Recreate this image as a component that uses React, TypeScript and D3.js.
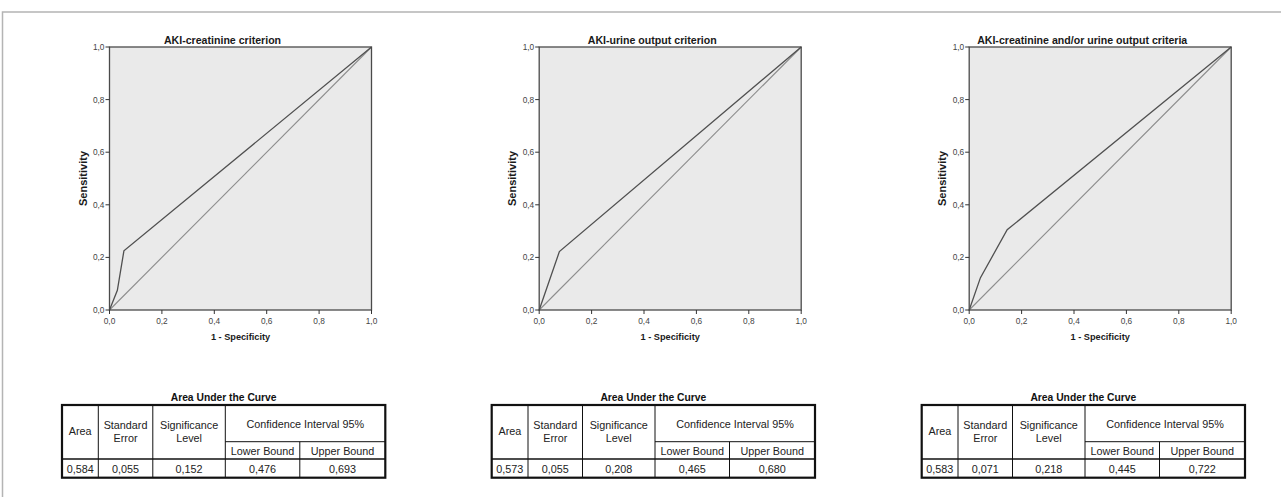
import React from 'react';
import * as d3 from 'd3';

const chartTitles = [
  'AKI-creatinine criterion',
  'AKI-urine output criterion',
  'AKI-creatinine and/or urine output criteria',
];
const rocCreatinine: [number, number][] = [[0, 0], [0.03, 0.075], [0.055, 0.225], [1, 1]];
const rocUrine: [number, number][] = [[0, 0], [0.077, 0.222], [1, 1]];
const rocCombined: [number, number][] = [[0, 0], [0.043, 0.123], [0.145, 0.305], [1, 1]];
const referenceLine: [number, number][] = [[0, 0], [1, 1]];
const tickValues = [0, 0.2, 0.4, 0.6, 0.8, 1];
const xAxisTitle = '1 - Specificity';
const yAxisTitle = 'Sensitivity';
const tableTitle = 'Area Under the Curve';
const aucArea = ['0,584', '0,573', '0,583'];
const aucStdError = ['0,055', '0,055', '0,071'];
const aucSignificance = ['0,152', '0,208', '0,218'];
const aucLowerBound = ['0,476', '0,465', '0,445'];
const aucUpperBound = ['0,693', '0,680', '0,722'];

const rocSeries = [rocCreatinine, rocUrine, rocCombined];

const W = 1281;
const H = 497;
const FONT = '"Liberation Sans", Arial, sans-serif';
const panelX = [62, 491.7, 921.7];
const plotOffset = 47.5;
const plotTop = 47;
const plotW = 262;
const plotH = 263;
const colW = [36.3, 54.5, 72.5, 74.5, 85.5];
const tableTop = 405;
const subRowY = 36.7;
const headBottom = 54;
const tableBottom = 72.7;

const fmt = (v: number) => d3.format('.1f')(v).replace('.', ',');

function Panel({ i }: { i: number }) {
  const px = panelX[i] + plotOffset;
  const x = d3.scaleLinear().domain([0, 1]).range([px, px + plotW]);
  const y = d3.scaleLinear().domain([0, 1]).range([plotTop + plotH, plotTop]);
  const line = d3
    .line<[number, number]>()
    .x((d) => x(d[0]))
    .y((d) => y(d[1]));
  const cx = px + plotW / 2;
  const cy = plotTop + plotH / 2;

  const tx = panelX[i];
  const colX: number[] = [tx];
  colW.forEach((w) => colX.push(colX[colX.length - 1] + w));
  const tRight = colX[colX.length - 1];
  const tW = tRight - tx;
  const mid = (a: number, b: number) => (a + b) / 2;
  const values = [aucArea[i], aucStdError[i], aucSignificance[i], aucLowerBound[i], aucUpperBound[i]];

  return (
    <g>
      <text x={cx - 18} y={44} textAnchor="middle" fontFamily={FONT} fontWeight="bold" fontSize={10.6} fill="#1a1a1a">
        {chartTitles[i]}
      </text>
      <rect x={px} y={plotTop} width={plotW} height={plotH} fill="#eaeaea" />
      <path d={line(referenceLine) || ''} fill="none" stroke="#8c8c8c" strokeWidth={1.1} />
      <path d={line(rocSeries[i]) || ''} fill="none" stroke="#505050" strokeWidth={1.3} />
      <rect x={px} y={plotTop} width={plotW} height={plotH} fill="none" stroke="#4a4a4a" strokeWidth={1.3} />
      {tickValues.map((t) => (
        <g key={'y' + t}>
          <line x1={px - 4} x2={px} y1={y(t)} y2={y(t)} stroke="#333" strokeWidth={1} />
          <text x={px - 5} y={y(t) + 3} textAnchor="end" fontFamily={FONT} fontSize={8.3} fill="#444">
            {fmt(t)}
          </text>
        </g>
      ))}
      {tickValues.map((t) => (
        <g key={'x' + t}>
          <line x1={x(t)} x2={x(t)} y1={plotTop + plotH} y2={plotTop + plotH + 4} stroke="#333" strokeWidth={1} />
          <text x={x(t)} y={plotTop + plotH + 13.5} textAnchor="middle" fontFamily={FONT} fontSize={8.3} fill="#444">
            {fmt(t)}
          </text>
        </g>
      ))}
      <text x={cx} y={339.5} textAnchor="middle" fontFamily={FONT} fontWeight="bold" fontSize={9.2} fill="#1a1a1a">
        {xAxisTitle}
      </text>
      <text
        transform={`translate(${px - 23},${cy}) rotate(-90)`}
        textAnchor="middle"
        fontFamily={FONT}
        fontWeight="bold"
        fontSize={11}
        fill="#1a1a1a"
      >
        {yAxisTitle}
      </text>

      {/* table */}
      <text x={tx + tW / 2} y={401} textAnchor="middle" fontFamily={FONT} fontWeight="bold" fontSize={10.3} fill="#111">
        {tableTitle}
      </text>
      <g fontFamily={FONT} fontSize={10.8} fill="#222" textAnchor="middle">
        <text x={mid(colX[0], colX[1])} y={tableTop + 30}>Area</text>
        <text x={mid(colX[1], colX[2])} y={tableTop + 24}>Standard</text>
        <text x={mid(colX[1], colX[2])} y={tableTop + 37}>Error</text>
        <text x={mid(colX[2], colX[3])} y={tableTop + 24}>Significance</text>
        <text x={mid(colX[2], colX[3])} y={tableTop + 37}>Level</text>
        <text x={mid(colX[3], colX[5])} y={tableTop + 22.5}>Confidence Interval 95%</text>
        <text x={mid(colX[3], colX[4])} y={tableTop + 49.5}>Lower Bound</text>
        <text x={mid(colX[4], colX[5])} y={tableTop + 49.5}>Upper Bound</text>
        {values.map((v, k) => (
          <text key={k} x={mid(colX[k], colX[k + 1])} y={tableTop + 67.5}>
            {v}
          </text>
        ))}
      </g>
      <g stroke="#111" fill="none">
        {[1, 2, 3].map((k) => (
          <line key={k} x1={colX[k]} x2={colX[k]} y1={tableTop} y2={tableTop + tableBottom} strokeWidth={1} />
        ))}
        <line x1={colX[4]} x2={colX[4]} y1={tableTop + subRowY} y2={tableTop + tableBottom} strokeWidth={1} />
        <line x1={colX[3]} x2={tRight} y1={tableTop + subRowY} y2={tableTop + subRowY} strokeWidth={1} />
        <line x1={tx} x2={tRight} y1={tableTop + headBottom} y2={tableTop + headBottom} strokeWidth={1.6} />
        <rect x={tx} y={tableTop} width={tW} height={tableBottom} strokeWidth={2.2} />
      </g>
    </g>
  );
}

export default function App() {
  return (
    <svg
      width={W}
      height={H}
      viewBox={`0 0 ${W} ${H}`}
      style={{ position: 'absolute', left: 0, top: 0, background: '#fff', display: 'block' }}
    >
      <rect x={0} y={0} width={W} height={H} fill="#fff" />
      <path d={`M2.5,${H} L2.5,12 L${W},12`} fill="none" stroke="#b4b4b4" strokeWidth={1.5} />
      {[0, 1, 2].map((i) => (
        <Panel key={i} i={i} />
      ))}
    </svg>
  );
}
